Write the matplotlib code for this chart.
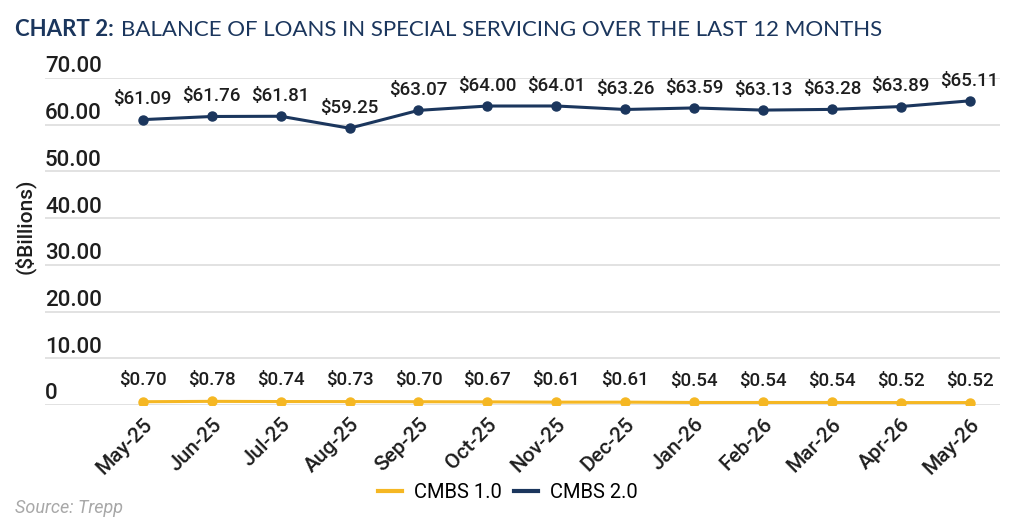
import matplotlib.pyplot as plt
import matplotlib.transforms as mtransforms

months = ['May-25', 'Jun-25', 'Jul-25', 'Aug-25', 'Sep-25', 'Oct-25', 'Nov-25',
          'Dec-25', 'Jan-26', 'Feb-26', 'Mar-26', 'Apr-26', 'May-26']
cmbs1 = [0.70, 0.78, 0.74, 0.73, 0.70, 0.67, 0.61, 0.61, 0.54, 0.54, 0.54, 0.52, 0.52]
cmbs2 = [61.09, 61.76, 61.81, 59.25, 63.07, 64.00, 64.01, 63.26, 63.59, 63.13, 63.28, 63.89, 65.11]
yticks = [0, 10, 20, 30, 40, 50, 60, 70]
ytick_labels = ['0', '10.00', '20.00', '30.00', '40.00', '50.00', '60.00', '70.00']

navy = '#1b365d'
gold = '#f5b723'
txt = '#1e1e1e'
plt.rcParams['font.family'] = ['Roboto', 'DejaVu Sans']

fig = plt.figure(figsize=(10.24, 5.25), dpi=100)
ax = fig.add_axes([45 / 1024, 120 / 525, 955 / 1024, 327 / 525])

x = list(range(len(months)))
ax.plot(x, cmbs1, color=gold, lw=2.2, marker='o', ms=6.5, label='CMBS 1.0', zorder=3)
ax.plot(x, cmbs2, color=navy, lw=2.2, marker='o', ms=6.5, label='CMBS 2.0', zorder=3)

# value labels above each point
for xi, v in zip(x, cmbs1):
    ax.annotate(f'${v:.2f}', (xi, v), xytext=(0, 12), textcoords='offset points',
                ha='center', va='baseline', fontsize=13.5, fontweight='medium', color=txt)
for xi, v in zip(x, cmbs2):
    ax.annotate(f'${v:.2f}', (xi, v), xytext=(0, 11), textcoords='offset points',
                ha='center', va='baseline', fontsize=13.5, fontweight='medium', color=txt)

ax.set_xlim(-1.42, 12.44)
ax.set_ylim(0, 70)
ax.set_yticks(yticks)
ax.set_yticklabels([])
ax.tick_params(axis='y', length=0)
ax.grid(axis='y', color='#dddddd', lw=1.2)
ax.set_axisbelow(True)
for s in ax.spines.values():
    s.set_visible(False)

# y labels sit above their gridlines, on the left
trans = mtransforms.blended_transform_factory(ax.transAxes, ax.transData)
for v, lab in zip(yticks, ytick_labels):
    ax.annotate(lab, (0.0, v), xycoords=trans, xytext=(0, 4), textcoords='offset points',
                ha='left', va='baseline', fontsize=16, fontweight='medium',
                color=txt, annotation_clip=False)

ax.set_xticks(x)
ax.set_xticklabels(months, rotation=45, ha='right', rotation_mode='anchor',
                   fontsize=15, fontweight='medium', color=txt)
ax.tick_params(axis='x', length=0, pad=7)

fig.text(25 / 1024, 1 - 226 / 525, '($Billions)', rotation=90, ha='center', va='center',
         fontsize=15, fontweight='medium', color=txt)

fig.text(15 / 1024, 1 - 30 / 525, 'CHART 2:', fontsize=16, fontweight='bold',
         color=navy, family=['Lato', 'DejaVu Sans'], va='center')
fig.text(121 / 1024, 1 - 30 / 525, 'BALANCE OF LOANS IN SPECIAL SERVICING OVER THE LAST 12 MONTHS',
         fontsize=16, color=navy, family=['Lato', 'DejaVu Sans'], va='center')

labels = ['CMBS 1.0', 'CMBS 2.0']
leg_handles = [plt.Line2D([], [], color=gold, lw=3), plt.Line2D([], [], color=navy, lw=3)]
fig.legend(leg_handles, labels, loc='center', bbox_to_anchor=(508 / 1024, 1 - 493 / 525),
           ncol=2, frameon=False, fontsize=14.5, handlelength=1.2, columnspacing=0.6,
           handletextpad=0.6)

fig.text(15 / 1024, 1 - 508 / 525, 'Source: Trepp', fontsize=13, style='italic',
         color='#a8a8a8', va='center')

fig.savefig('out.png', dpi=100)
